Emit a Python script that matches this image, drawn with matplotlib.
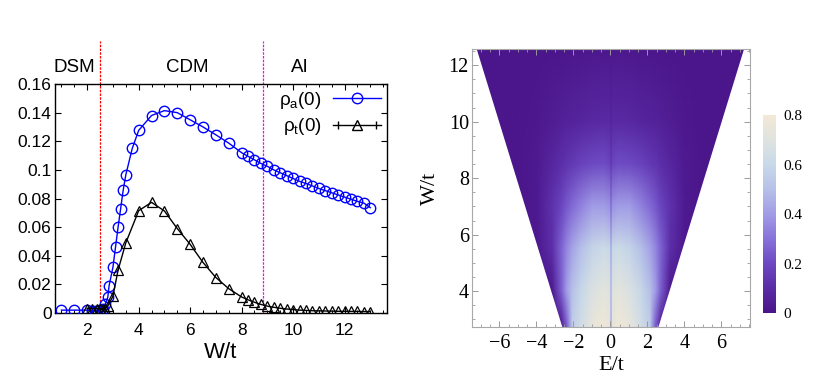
import numpy as np
import matplotlib
matplotlib.use("Agg")
import matplotlib.pyplot as plt
from matplotlib.colors import LinearSegmentedColormap, Normalize
from matplotlib.image import NonUniformImage
from matplotlib.lines import Line2D
from matplotlib.patches import Polygon
from matplotlib.legend_handler import HandlerLine2D, HandlerTuple

plt.rcParams['mathtext.fontset'] = 'custom'
plt.rcParams['mathtext.rm'] = 'Liberation Sans'
plt.rcParams['mathtext.it'] = 'Liberation Sans'

# --- left panel data ---
w_a = [1.0, 1.5, 2.0, 2.2, 2.3, 2.4, 2.5, 2.6, 2.7, 2.8, 2.85, 3.0, 3.1, 3.2, 3.3,
       3.4, 3.5, 3.75, 4.0, 4.5, 5.0, 5.5, 6.0, 6.5, 7.0, 7.5,
       8.0, 8.25, 8.5, 8.75, 9.0, 9.25, 9.5, 9.75, 10.0, 10.25, 10.5, 10.75,
       11.0, 11.25, 11.5, 11.75, 12.0, 12.25, 12.5, 12.75, 13.0]
rho_a = [0.002, 0.002, 0.002, 0.0015, 0.0015, 0.0015, 0.002, 0.003, 0.006, 0.011, 0.019,
         0.032, 0.046, 0.060, 0.073, 0.086, 0.0965, 0.115, 0.1276, 0.138, 0.1414,
         0.140, 0.135, 0.130, 0.1245, 0.1187,
         0.1120, 0.1095, 0.1070, 0.1045, 0.1025, 0.1000, 0.0980, 0.0960, 0.0940,
         0.0920, 0.0905, 0.0888, 0.0870, 0.0855, 0.0840, 0.0825, 0.0810, 0.0795,
         0.0780, 0.0768, 0.0736]

w_t = [2.0, 2.2, 2.4, 2.5, 2.6, 2.7, 2.8, 3.0, 3.2, 3.5, 4.0, 4.5, 5.0, 5.5, 6.0,
       6.5, 7.0, 7.5, 8.0, 8.25, 8.5, 8.75, 9.0, 9.25, 9.5, 9.75, 10.0, 10.25,
       10.5, 10.75, 11.0, 11.25, 11.5, 11.75, 12.0, 12.25, 12.5, 12.75, 13.0]
rho_t = [0.003, 0.003, 0.003, 0.003, 0.003, 0.003, 0.005, 0.0117, 0.030, 0.049,
         0.0715, 0.0773, 0.0713, 0.059, 0.048, 0.0353, 0.0248, 0.017, 0.0112,
         0.0092, 0.0075, 0.006, 0.0048, 0.004, 0.0033, 0.0028, 0.0024, 0.002,
         0.0018, 0.0016, 0.0015, 0.0014, 0.0013, 0.0012, 0.0012, 0.0011, 0.0011,
         0.001, 0.001]

y_ticks = [0, 0.02, 0.04, 0.06, 0.08, 0.1, 0.12, 0.14, 0.16]
y_labels = ['0', '0.02', '0.04', '0.06', '0.08', '0.1', '0.12', '0.14', '0.16']
phase_names = ['DSM', 'CDM', 'AI']
phase_x = [1.5, 5.9, 10.25]
w_c1, w_c2 = 2.5, 8.85

# --- right panel data (heatmap) ---
e_half = [0, 0.08, 0.4, 1.0, 1.6, 2.1, 2.4, 2.7, 3.2, 4.0, 5.0, 6.0, 7.5]
w_rows = [2.73, 4.0, 5.5, 7.0, 8.5, 10.0, 12.55]
z_half = [
    [0.42, 0.74, 0.78, 0.74, 0.64, 0.55, 0.25, 0.03, 0.01, 0.01, 0.01, 0.01, 0.01],
    [0.45, 0.70, 0.72, 0.68, 0.60, 0.50, 0.40, 0.25, 0.02, 0.01, 0.01, 0.01, 0.01],
    [0.42, 0.60, 0.62, 0.58, 0.50, 0.42, 0.35, 0.26, 0.11, 0.02, 0.01, 0.01, 0.01],
    [0.27, 0.38, 0.40, 0.40, 0.34, 0.28, 0.24, 0.19, 0.12, 0.03, 0.01, 0.01, 0.01],
    [0.14, 0.19, 0.21, 0.20, 0.18, 0.15, 0.13, 0.11, 0.08, 0.03, 0.01, 0.01, 0.01],
    [0.06, 0.09, 0.09, 0.085, 0.075, 0.065, 0.06, 0.05, 0.04, 0.02, 0.01, 0.01, 0.01],
    [0.02, 0.02, 0.02, 0.02, 0.015, 0.015, 0.01, 0.01, 0.01, 0.01, 0.01, 0.01, 0.01],
]
w_edge = [2.73, 12.55]
e_edge = [2.6, 7.22]

cmap_colors = ['#4a1489', '#5a2ca6', '#6c48c2', '#8872da', '#a19ce6',
               '#b6c0e8', '#c8d9e9', '#dfe3e0', '#f3e8d6']

fig = plt.figure(figsize=(8.3, 3.87), dpi=100)

# ================= left panel =================
ax = fig.add_axes([0.0663, 0.1912, 0.4, 0.5917])
sans = 'Liberation Sans'

ax.plot(w_a, rho_a, color='#0000ff', lw=1.0, marker='o', ms=7.5, mfc='none',
        mec='#0000ff', mew=1.0, zorder=3)
ax.plot(w_t, rho_t, color='black', lw=1.0, marker='^', ms=7, mfc='none',
        mec='black', mew=0.9, zorder=4)

ax.plot([w_c1, w_c1], [0, 0.19], color='#ff0000', lw=0.9, ls=(0, (2, 1)),
        clip_on=False, zorder=2)
ax.plot([w_c2, w_c2], [0, 0.19], color='#ff00ff', lw=0.9, ls=(0, (2, 1)),
        clip_on=False, zorder=2)
for name, xp in zip(phase_names, phase_x):
    ax.text(xp, 0.1715, name, ha='center', va='center', fontsize=13.5,
            family=sans, clip_on=False)

ax.set_xlim(0.75, 13.65)
ax.set_ylim(0, 0.16)
ax.set_xticks([2, 4, 6, 8, 10, 12])
ax.set_xticks(np.arange(1.0, 13.6, 0.5), minor=True)
ax.set_yticks(y_ticks)
ax.set_yticklabels(y_labels)
ax.tick_params(which='both', direction='in', top=True, right=True)
ax.tick_params(which='major', length=4.5, width=0.8)
ax.tick_params(which='minor', length=2.5, width=0.7)
ax.tick_params(axis='x', which='major', pad=7, labelsize=12.5)
ax.tick_params(axis='y', which='major', pad=2.5, labelsize=12.5)
for lab in ax.get_xticklabels() + ax.get_yticklabels():
    lab.set_family(sans)
ax.set_xlabel('W/t', fontsize=16, family=sans, labelpad=3)
for s in ax.spines.values():
    s.set_linewidth(1.0)

# legend (gnuplot style: label left, sample right, error-line caps)
h_a = Line2D([], [], color='#0000ff', lw=1.0, marker='o', ms=7.5, mfc='none', mec='#0000ff')
h_t = Line2D([], [], color='black', lw=1.0, marker='^', ms=7, mfc='none', mec='black')
h_caps = Line2D([], [], color='black', ls='none', marker='|', ms=6, mew=1.0)
ax.legend([h_a, (h_t, h_caps)],
          [r'ρ$_\mathrm{a}$(0)', r'ρ$_\mathrm{t}$(0)'],
          handler_map={h_caps: HandlerLine2D(numpoints=2),
                       tuple: HandlerTuple(ndivide=1)},
          loc='upper right', frameon=False, markerfirst=False, numpoints=1,
          handlelength=2.6, handletextpad=0.6, labelspacing=0.3,
          borderaxespad=0.1, borderpad=0.2, prop={'family': sans, 'size': 13.5})

# ================= right panel =================
serif = 'Liberation Serif'
ax2 = fig.add_axes([0.5683, 0.155, 0.3353, 0.7176])
cmap = LinearSegmentedColormap.from_list('m10', cmap_colors)

e_half_arr = np.array(e_half)
e_full = np.concatenate([-e_half_arr[::-1], e_half_arr[1:]])
z_arr = np.array(z_half)
z_full = np.concatenate([z_arr[:, ::-1], z_arr[:, 1:]], axis=1)

im = NonUniformImage(ax2, interpolation='bilinear', cmap=cmap,
                     norm=Normalize(vmin=0, vmax=0.8))
im.set_data(e_full, w_rows, z_full)
ax2.add_image(im)
clip = Polygon([(-e_edge[0], w_edge[0]), (e_edge[0], w_edge[0]),
                (e_edge[1], w_edge[1]), (-e_edge[1], w_edge[1])],
               closed=True, transform=ax2.transData, facecolor='none', edgecolor='none')
ax2.add_patch(clip)
im.set_clip_path(clip)

ax2.set_xlim(-7.5, 7.55)
ax2.set_ylim(2.73, 12.56)
ax2.set_xticks([-6, -4, -2, 0, 2, 4, 6])
ax2.set_xticks(np.arange(-7.0, 7.6, 0.5), minor=True)
ax2.set_yticks([4, 6, 8, 10, 12])
ax2.set_yticks(np.arange(3.0, 12.6, 0.5), minor=True)
ax2.tick_params(which='both', direction='in', top=True, right=True,
                color='#9a9a9a', labelsize=14.5)
ax2.tick_params(which='major', length=4, width=0.7)
ax2.tick_params(which='minor', length=2.2, width=0.6)
ax2.tick_params(axis='x', pad=5)
ax2.tick_params(axis='y', pad=2)
for lab in ax2.get_xticklabels() + ax2.get_yticklabels():
    lab.set_family(serif)
for s in ax2.spines.values():
    s.set_color('#a8a8a8')
    s.set_linewidth(0.8)
ax2.set_xlabel('E/t', fontsize=16, family=serif, labelpad=2)
ax2.set_ylabel('W/t', fontsize=16, family=serif, labelpad=6)

# colorbar
cax = fig.add_axes([0.9193, 0.1912, 0.0157, 0.5116])
cb = fig.colorbar(im, cax=cax, ticks=[0, 0.2, 0.4, 0.6, 0.8])
cb.ax.set_yticklabels(['0', '0.2', '0.4', '0.6', '0.8'])
cb.outline.set_visible(False)
cb.ax.tick_params(length=0, pad=5, labelsize=11)
for lab in cb.ax.get_yticklabels():
    lab.set_family(serif)

fig.savefig('out.png', dpi=100)
